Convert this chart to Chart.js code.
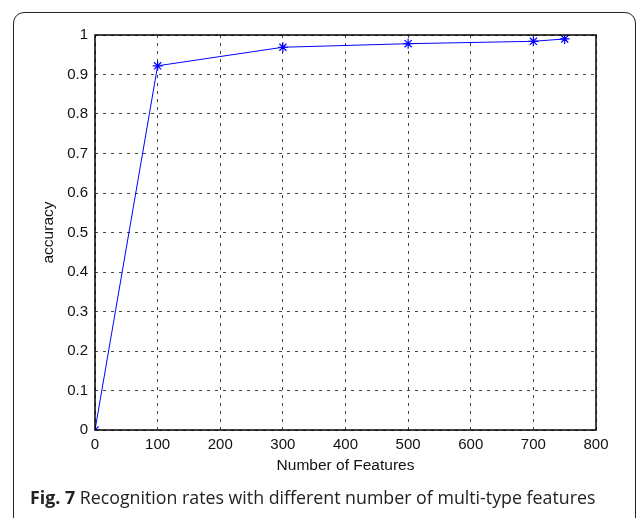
<!DOCTYPE html>
<html>
<head>
<meta charset="utf-8">
<script src="https://cdn.jsdelivr.net/npm/chart.js@4.4.1/dist/chart.umd.min.js"></script>
<style>
  body { margin: 0; background: #fff; }
  #wrap { position: relative; width: 637px; height: 518px; overflow: hidden; }
  #frame { position: absolute; left: 13px; top: 12px; width: 621px; height: 530px;
           border: 1.5px solid #222; border-radius: 11px; }
  #chart { position: absolute; left: 0; top: 0; }
  #caption { position: absolute; left: 30px; top: 485px; font-family: "Open Sans", sans-serif;
             font-size: 17.8px; color: #222; white-space: nowrap; }
</style>
</head>
<body>
<div id="wrap">
  <div id="frame"></div>
  <canvas id="chart" width="637" height="518"></canvas>
  <div id="caption"><b>Fig. 7</b> Recognition rates with different number of multi-type features</div>
</div>
<script>
const features = [0, 100, 300, 500, 700, 750];
const accuracy = [0, 0.922, 0.969, 0.978, 0.984, 0.99];
const xTicks = [0, 100, 200, 300, 400, 500, 600, 700, 800];
const yTicks = [0, 0.1, 0.2, 0.3, 0.4, 0.5, 0.6, 0.7, 0.8, 0.9, 1];

const tickFont = { family: "'Liberation Sans', Arial, sans-serif", size: 15 };
const titleFont = { family: "'Liberation Sans', Arial, sans-serif", size: 15.5 };

// solid black box around the plot area
const boxPlugin = {
  id: "box",
  afterDraw(chart) {
    const { ctx, chartArea: a } = chart;
    ctx.save();
    ctx.strokeStyle = "#000";
    ctx.lineWidth = 1.5;
    ctx.strokeRect(a.left, a.top, a.right - a.left, a.bottom - a.top);
    ctx.restore();
  },
};

const gridStyle = { color: "#444", drawTicks: false };

new Chart(document.getElementById("chart"), {
  type: "line",
  data: {
    datasets: [
      {
        data: features.map((x, i) => ({ x, y: accuracy[i] })),
        borderColor: "#0000ff",
        backgroundColor: "#0000ff",
        borderWidth: 1,
        pointStyle: "star",
        pointRadius: 5,
        pointBorderWidth: 1.2,
        tension: 0,
      },
    ],
  },
  options: {
    responsive: false,
    animation: false,
    layout: { padding: { left: 35, top: 35, right: 41, bottom: 39 } },
    plugins: { legend: { display: false }, tooltip: { enabled: false } },
    scales: {
      x: {
        type: "linear",
        min: 0,
        max: 800,
        afterBuildTicks: (s) => { s.ticks = xTicks.map((v) => ({ value: v })); },
        afterFit: (s) => { s.height = 49; },
        ticks: { color: "#111", font: tickFont, padding: 6, maxRotation: 0 },
        grid: gridStyle,
        border: { display: false, dash: [3, 5] },
        title: { display: true, text: "Number of Features", color: "#111", font: titleFont, padding: { top: 0, bottom: 4 } },
      },
      y: {
        min: 0,
        max: 1,
        afterBuildTicks: (s) => { s.ticks = yTicks.map((v) => ({ value: v })); },
        afterFit: (s) => { s.width = 60; },
        ticks: { color: "#111", font: tickFont, padding: 7, callback: (v) => String(v) },
        grid: gridStyle,
        border: { display: false, dash: [3, 5] },
        title: { display: true, text: "accuracy", color: "#111", font: titleFont, padding: { top: 4, bottom: 0 } },
      },
    },
  },
  plugins: [boxPlugin],
});
</script>
</body>
</html>
